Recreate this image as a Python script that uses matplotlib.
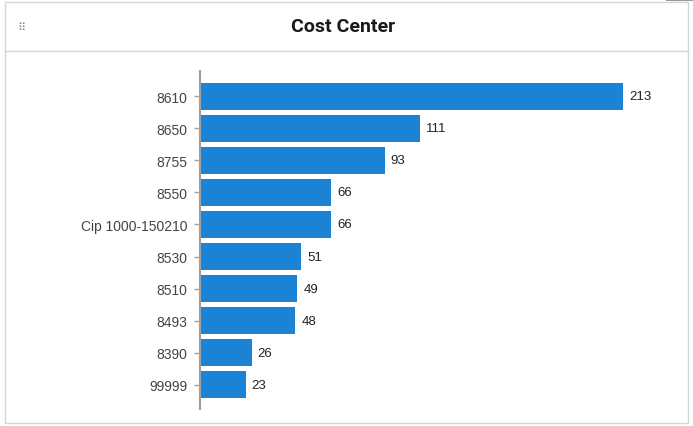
import matplotlib.pyplot as plt
from matplotlib.patches import Rectangle
from matplotlib.lines import Line2D

cost_centers = ["8610", "8650", "8755", "8550", "Cip 1000-150210",
                "8530", "8510", "8493", "8390", "99999"]
counts = [213, 111, 93, 66, 66, 51, 49, 48, 26, 23]

BAR_COLOR = "#1a83d5"
W, H = 693, 427

plt.rcParams["font.family"] = ["Liberation Sans", "DejaVu Sans"]

fig = plt.figure(figsize=(W / 100, H / 100), dpi=100)

# panel frame and header divider
fig.add_artist(Rectangle((5 / W, 1 - 424 / H), 683 / W, 421 / H,
                         transform=fig.transFigure, fill=False,
                         edgecolor="#d6d6d6", linewidth=1))
fig.add_artist(Line2D([5 / W, 688 / W], [1 - 52 / H, 1 - 52 / H],
                      transform=fig.transFigure, color="#d6d6d6", linewidth=1))
fig.add_artist(Line2D([667 / W, 1], [1 - 1 / H, 1 - 1 / H],
                      transform=fig.transFigure, color="#9a9a9a", linewidth=1.5))
fig.text(343 / W, 1 - 27 / H, "Cost Center", ha="center", va="center",
         fontsize=14, fontweight="bold", color="#1a1a1a",
         family=["Roboto", "DejaVu Sans"])
fig.text(21 / W, 1 - 28 / H, "⠿", ha="center", va="center",
         fontsize=8, color="#8a8a8a", family=["DejaVu Sans"])

ax = fig.add_axes([200 / W, 17 / H, 480 / W, 338 / H])
y = list(range(len(cost_centers)))
ax.barh(y, counts, height=0.84, color=BAR_COLOR)
for yi, v in zip(y, counts):
    ax.text(v + 3, yi, str(v), va="center", ha="left", fontsize=9.5,
            color="#222222")

ax.set_yticks(y)
ax.set_yticklabels(cost_centers)
ax.set_ylim(9.75, -0.78)
ax.set_xlim(0, 241.7)
ax.set_xticks([])
for side in ("top", "right", "bottom"):
    ax.spines[side].set_visible(False)
ax.spines["left"].set_color("#a0a0a0")
ax.spines["left"].set_linewidth(1.5)
ax.tick_params(axis="y", length=4, width=1, color="#a0a0a0",
               labelsize=10, labelcolor="#444444", pad=5)

fig.savefig("out.png", dpi=100)
